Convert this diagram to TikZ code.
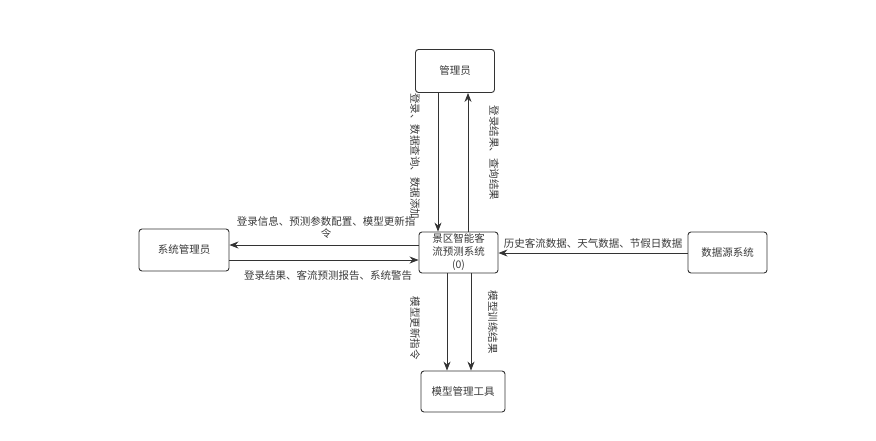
\documentclass[tikz,border=0pt]{standalone}
\usepackage{fontspec}
\setmainfont{Noto Sans CJK SC}
\usepackage{xcolor}
\usetikzlibrary{arrows.meta, positioning, calc}
\definecolor{dfLine}{HTML}{333333}
\definecolor{dfText}{HTML}{3A3A3A}
\tikzset{
  df-entity/.style={
    rectangle, rounded corners=3pt, draw=dfLine, line width=0.9pt, fill=white,
    minimum height=42pt, minimum width=80pt, align=center, inner sep=1pt,
    font=\fontsize{10.5}{13}\selectfont, text=dfText
  },
  df-flow/.style={-{Stealth[length=9pt,width=7pt]}, line width=0.8pt, draw=dfLine},
  df-label/.style={font=\fontsize{10.5}{12.5}\selectfont, text=dfText, align=center, inner sep=0pt},
}

\begin{document}
\begin{tikzpicture}[x=1pt, y=-1pt]
  \useasboundingbox (0,0) rectangle (876,440);

  \node[df-entity, minimum width=79pt, minimum height=43pt] (admin) at (455,71) {管理员};
  \node[df-entity, minimum width=79pt, minimum height=41pt] (core) at (458.5,252.5)
                                                {景区智能客\\流预测系统\\(0)};
  \node[df-entity, minimum width=90pt, minimum height=42pt] (sysadm) at (184,250) {系统管理员};
  \node[df-entity, minimum width=79pt, minimum height=41pt] (src) at (727.5,252.5) {数据源系统};
  \node[df-entity, minimum width=84pt, minimum height=41pt] (tool) at (463,391.5) {模型管理工具};

  \draw[df-flow] (admin.south -| 438,0) -- (core.north -| 438,0);
  \draw[df-flow] (core.north -| 468,0) -- (admin.south -| 468,0);
  \draw[df-flow] (core.west |- 0,245) -- (sysadm.east |- 0,245);
  \draw[df-flow] (sysadm.east |- 0,260) -- (core.west |- 0,260);
  \draw[df-flow] (src.west |- 0,253) -- (core.east |- 0,253);
  \draw[df-flow] (core.south -| 447,0) -- (tool.north -| 447,0);
  \draw[df-flow] (core.south -| 471,0) -- (tool.north -| 471,0);

  % flow labels
  \node[df-label, rotate=-90] (l-login) at (415,156) {登录、数据查询、数据添加};
  \node[df-label, rotate=-90] (l-result) at (494,153) {登录结果、查询结果};
  \node[df-label] (l-config) at (326,227.5) {登录信息、预测参数配置、模型更新指\\令};
  \node[df-label] (l-report) at (328,276) {登录结果、客流预测报告、系统警告};
  \node[df-label] (l-data) at (593,243) {历史客流数据、天气数据、节假日数据};
  \node[df-label, rotate=-90] (l-update) at (415,328) {模型更新指令};
  \node[df-label, rotate=-90] (l-train) at (493,322) {模型训练结果};
\end{tikzpicture}
\end{document}
